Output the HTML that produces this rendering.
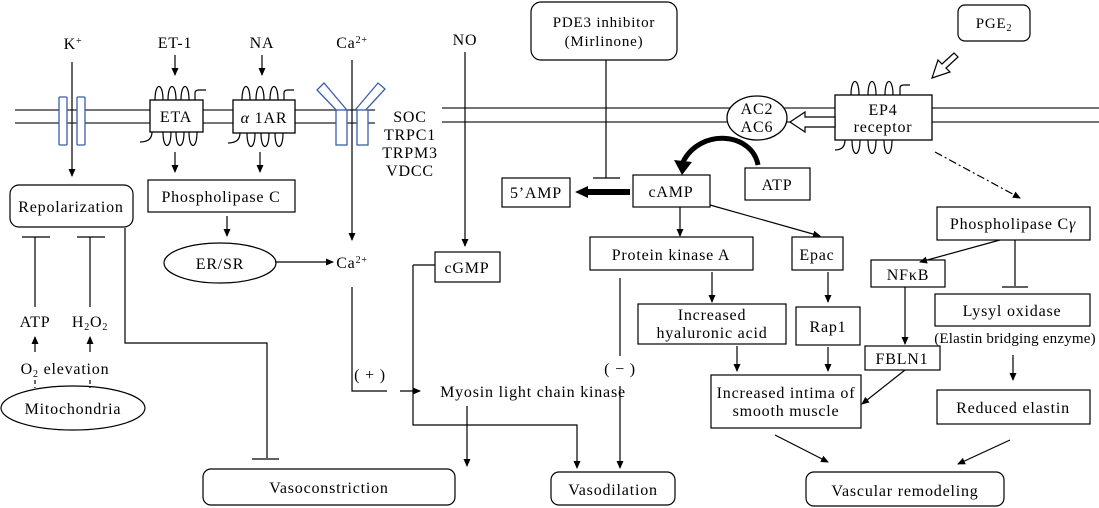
<!DOCTYPE html>
<html><head><meta charset="utf-8"><style>
html,body{margin:0;padding:0;background:#fff;}
svg{display:block;font-family:"Liberation Serif",serif;font-size:16px;letter-spacing:0.8px;}
</style></head><body>
<svg width="1099" height="508" viewBox="0 0 1099 508" xmlns="http://www.w3.org/2000/svg">
<defs>
<marker id="a" markerWidth="8" markerHeight="8" refX="7" refY="4" orient="auto" markerUnits="userSpaceOnUse"><path d="M0,0.5 L8,4 L0,7.5 z" fill="#000"/></marker>
</defs>
<g stroke="#222" stroke-width="1.3" fill="none">
<path d="M15,110 H375 M15,123 H375 M442,108 H1099 M442,122 H1099"/>
</g>
<g stroke="#000" stroke-width="1.3" fill="#fff">
<rect x="59" y="97" width="8" height="48" stroke="#3a5ea8" rx="1"/>
<rect x="77" y="97" width="8" height="48" stroke="#3a5ea8" rx="1"/>
<polygon points="317,90 324,83 346,109 340,114" stroke="#3a5ea8"/>
<rect x="336" y="110" width="11" height="35" stroke="#3a5ea8"/>
<polygon points="385,89 378,83 356,109 362,114" stroke="#3a5ea8"/>
<rect x="357" y="110" width="11" height="35" stroke="#3a5ea8"/>
<rect x="150" y="100" width="53" height="32"/>
<rect x="233" y="100" width="62" height="33"/>
<rect x="835" y="95" width="97" height="45"/>
<ellipse cx="757" cy="118" rx="30" ry="22"/>
</g>
<g stroke="#000" stroke-width="1.2" fill="none">
<path d="M155,100 C155,82 163,82 163,100 M168,100 C168,82 176,82 176,100 M181,100 C181,82 189,82 189,100 M195,100 V93 Q195,90 199,90 H206"/>
<path d="M140,142 Q152,142 152,132 M163,132 C163,150 171,150 171,132 M176,132 C176,150 184,150 184,132 M189,132 C189,150 197,150 197,132"/>
<path d="M242,100 C242,82 250,82 250,100 M256,100 C256,82 264,82 264,100 M270,100 C270,82 278,82 278,100 M284,100 V93 Q284,90 288,90 H294"/>
<path d="M228,143 Q240,143 240,133 M247,133 C247,151 255,151 255,133 M261,133 C261,151 269,151 269,133 M275,133 C275,151 283,151 283,133"/>
<path d="M851,95 C851,77 859,77 859,95 M868,95 C868,77 876,77 876,95 M885,95 C885,77 893,77 893,95 M900,95 V88 Q900,85 904,85 H910"/>
<path d="M835,150 Q845,150 845,140 M852,140 C852,158 860,158 860,140 M868,140 C868,158 876,158 876,140 M884,140 C884,158 892,158 892,140"/>
<rect x="10" y="185" width="123" height="42" rx="9"/>
<rect x="148" y="180" width="147" height="32"/>
<ellipse cx="220" cy="263" rx="56" ry="20"/>
<ellipse cx="73" cy="408" rx="72" ry="22"/>
<rect x="203" y="469" width="252" height="36" rx="8"/>
<rect x="435" y="252" width="65" height="30"/>
<rect x="531" y="2" width="146" height="58" rx="10"/>
<rect x="958" y="5" width="72" height="36" rx="7"/>
<rect x="633" y="175" width="77" height="32"/>
<rect x="745" y="168" width="65" height="32"/>
<rect x="502" y="178" width="68" height="29"/>
<rect x="590" y="237" width="163" height="33"/>
<rect x="792" y="237" width="51" height="33"/>
<rect x="638" y="304" width="148" height="40"/>
<rect x="796" y="307" width="64" height="38"/>
<rect x="711" y="375" width="150" height="53"/>
<rect x="937" y="207" width="153" height="33"/>
<rect x="871" y="260" width="74" height="27"/>
<rect x="935" y="294" width="155" height="32"/>
<rect x="937" y="390" width="153" height="34"/>
<rect x="865" y="346" width="75" height="24"/>
<rect x="551" y="472" width="124" height="33" rx="8"/>
<rect x="806" y="472" width="198" height="34" rx="8"/>
</g>
<g stroke="#000" stroke-width="1.2" fill="none" marker-end="url(#a)">
<path d="M72,62 V176"/>
<path d="M175,55 V75"/><path d="M262,55 V75"/>
<path d="M175,152 V172"/><path d="M260,152 V172"/>
<path d="M227,216 V236"/>
<path d="M352,60 V240"/>
<path d="M275,262 H333"/>
<path d="M35,352 V337"/><path d="M90,352 V337"/>
<path d="M400,391 H420"/>
<path d="M467,406 V466"/>
<path d="M413,265 V425 H577 V468"/>
<path d="M620,386 V468"/>
<path d="M465,52 V246"/>
<path d="M680,207 V236"/>
<path d="M710,205 L820,236"/>
<path d="M712,272 V302"/>
<path d="M828,272 V302"/>
<path d="M737,346 V371"/><path d="M828,347 V371"/>
<path d="M935,152 L1020,198" stroke-dasharray="8,3,2,3"/>
<path d="M1000,240 L920,262"/>
<path d="M905,287 V344"/>
<path d="M905,370 L862,404"/>
<path d="M1013,355 V380"/>
<path d="M775,435 L828,462"/>
<path d="M1010,440 L958,464"/>
</g>
<g stroke="#000" stroke-width="1.2" fill="none">
<path d="M413,265 H435"/>
<path d="M35,237 V307 M22,237 H50"/>
<path d="M90,237 V307 M77,237 H105"/>
<path d="M125,228 V343 H267 V458 M252,459 H279"/>
<path d="M352,287 V391 H387"/>
<path d="M620,278 V356"/>
<path d="M606,60 V178 M593,178 H620"/>
<path d="M1015,240 V286 M1002,287 H1028"/>
<path d="M35,380 V388 M90,380 V388" stroke-dasharray="4,3"/>
</g>
<path d="M630,192 H588" stroke="#000" stroke-width="6"/>
<polygon points="588,186 575,192 588,198" fill="#000"/>
<path d="M758,165 C752,132 700,128 683,162" stroke="#000" stroke-width="5" fill="none"/>
<polygon points="674,160 682,175 692,162" fill="#000"/>
<polygon points="835,117 805,117 805,112 790,122 805,132 805,127 835,127" fill="#fff" stroke="#000" stroke-width="1.2"/>
<polygon points="958,57 946,68 950,72 932,78 938,60 942,64 954,53" fill="#fff" stroke="#000" stroke-width="1.2"/>
<g fill="#000" text-anchor="middle">
<text x="73" y="49">K<tspan font-size="10" dy="-5">+</tspan></text>
<text x="175" y="48">ET-1</text>
<text x="262" y="48">NA</text>
<text x="352" y="48">Ca<tspan font-size="10" dy="-5">2+</tspan></text>
<text x="176" y="122">ETA</text>
<text x="264" y="123"><tspan font-style="italic">α</tspan> 1AR</text>
<text x="410" y="122">SOC</text>
<text x="410" y="140">TRPC1</text>
<text x="410" y="158">TRPM3</text>
<text x="410" y="176">VDCC</text>
<text x="71" y="212">Repolarization</text>
<text x="221" y="202">Phospholipase C</text>
<text x="220" y="269">ER/SR</text>
<text x="352" y="268">Ca<tspan font-size="10" dy="-5">2+</tspan></text>
<text x="35" y="327">ATP</text>
<text x="90" y="327">H<tspan font-size="10" dy="3">2</tspan><tspan dy="-3">O</tspan><tspan font-size="10" dy="3">2</tspan></text>
<text x="65" y="374">O<tspan font-size="10" dy="3">2</tspan><tspan dy="-3"> elevation</tspan></text>
<text x="73" y="414">Mitochondria</text>
<text x="329" y="493">Vasoconstriction</text>
<text x="467" y="273">cGMP</text>
<text x="465" y="45">NO</text>
<text x="370" y="380">( + )</text>
<text x="533" y="397">Myosin light chain kinase</text>
<text x="620" y="374">( − )</text>
<text x="604" y="27" font-size="15">PDE3 inhibitor</text>
<text x="604" y="46" font-size="15">(Mirlinone)</text>
<text x="994" y="28" font-size="15">PGE<tspan font-size="10" dy="3">2</tspan></text>
<text x="757" y="114">AC2</text>
<text x="757" y="132">AC6</text>
<text x="883" y="115">EP4</text>
<text x="883" y="132">receptor</text>
<text x="671" y="197">cAMP</text>
<text x="777" y="190">ATP</text>
<text x="536" y="198">5’AMP</text>
<text x="671" y="260">Protein kinase A</text>
<text x="817" y="260">Epac</text>
<text x="712" y="320">Increased</text>
<text x="712" y="338">hyaluronic acid</text>
<text x="828" y="332">Rap1</text>
<text x="786" y="398">Increased intima of</text>
<text x="786" y="416">smooth muscle</text>
<text x="1013" y="229">Phospholipase C<tspan font-style="italic">γ</tspan></text>
<text x="908" y="280">NFκB</text>
<text x="1012" y="316">Lysyl oxidase</text>
<text x="1015" y="343" font-size="15" letter-spacing="0.2">(Elastin bridging enzyme)</text>
<text x="1013" y="413">Reduced elastin</text>
<text x="902" y="364">FBLN1</text>
<text x="613" y="495">Vasodilation</text>
<text x="905" y="496">Vascular remodeling</text>
</g>
</svg>
</body></html>
